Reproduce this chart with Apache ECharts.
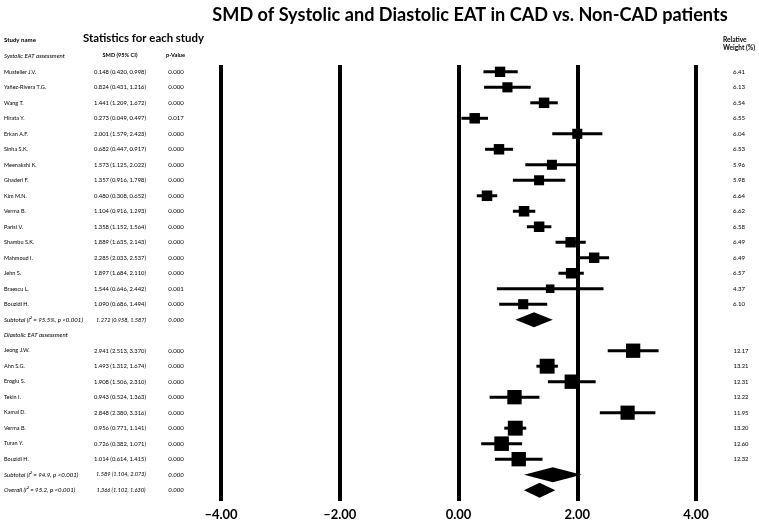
<!DOCTYPE html>
<html><head><meta charset="utf-8">
<script src="https://cdn.jsdelivr.net/npm/echarts@6/dist/echarts.min.js"></script>
<style>html,body{margin:0;padding:0;background:#fff}#c{width:759px;height:523px}</style>
</head><body><div id="c"></div>
<script>
// ---- Systolic studies ----
const sysNames = ['Mustelier J.V.','Yañez-Rivera T.G.','Wang T.','Hirata Y.','Erkan A.F.','Sinha S.K.','Meenakshi K.','Ghaderi F.','Kim M.N.','Verma B.','Parisi V.','Shambu S.K.','Mahmoud I.','Jehn S.','Braescu L.','Bouzidi H.'];
const sysCIText = ['0.148 (0.420, 0.998)','0.824 (0.431, 1.216)','1.441 (1.209, 1.672)','0.273 (0.049, 0.497)','2.001 (1.579, 2.423)','0.682 (0.447, 0.917)','1.573 (1.125, 2.022)','1.357 (0.916, 1.798)','0.480 (0.308, 0.652)','1.104 (0.916, 1.293)','1.358 (1.152, 1.564)','1.889 (1.635, 2.143)','2.285 (2.033, 2.537)','1.897 (1.684, 2.110)','1.544 (0.646, 2.442)','1.090 (0.686, 1.494)'];
const sysP = ['0.000','0.000','0.000','0.017','0.000','0.000','0.000','0.000','0.000','0.000','0.000','0.000','0.000','0.000','0.001','0.000'];
const sysEst = [0.70,0.824,1.441,0.273,2.001,0.682,1.573,1.357,0.480,1.104,1.358,1.889,2.285,1.897,1.544,1.090];
const sysLow = [0.420,0.431,1.209,0.049,1.579,0.447,1.125,0.916,0.308,0.916,1.152,1.635,2.033,1.684,0.646,0.686];
const sysHigh = [0.998,1.216,1.672,0.497,2.423,0.917,2.022,1.798,0.652,1.293,1.564,2.143,2.537,2.110,2.442,1.494];
const sysWeight = [6.41,6.13,6.54,6.55,6.04,6.53,5.96,5.98,6.64,6.62,6.58,6.49,6.49,6.57,4.37,6.10];
// ---- Diastolic studies ----
const diaNames = ['Jeong J.W.','Ahn S.G.','Eroglu S.','Tekin I.','Kamal D.','Verma B.','Turan Y.','Bouzidi H.'];
const diaCIText = ['2.941 (2.513, 3.370)','1.493 (1.312, 1.674)','1.908 (1.506, 2.310)','0.943 (0.524, 1.363)','2.848 (2.380, 3.316)','0.956 (0.771, 1.141)','0.726 (0.382, 1.071)','1.014 (0.614, 1.415)'];
const diaP = ['0.000','0.000','0.000','0.000','0.000','0.000','0.000','0.000'];
const diaEst = [2.941,1.493,1.908,0.943,2.848,0.956,0.726,1.014];
const diaLow = [2.513,1.312,1.506,0.524,2.380,0.771,0.382,0.614];
const diaHigh = [3.370,1.674,2.310,1.363,3.316,1.141,1.071,1.415];
const diaWeight = [12.17,13.21,12.31,12.22,11.95,13.20,12.60,12.32];
// ---- Summary estimates ----
const sumLabels = ['Subtotal (I² = 95.5%, p <0.001)','Subtotal (I² = 94.9, p <0.001)','Overall (I² = 95.2, p <0.001)'];
const sumCIText = ['1.272 (0.958, 1.587)','1.589 (1.104, 2.073)','1.366 (1.102, 1.630)'];
const sumP = ['0.000','0.000','0.000'];
const sumEst = [1.272,1.589,1.366];
const sumLow = [0.958,1.104,1.102];
const sumHigh = [1.587,2.073,1.630];
// ---- Axis ticks ----
const xTicks = [-4,-2,0,2,4];

const FONT = 'Lato, "Open Sans", sans-serif';
// font size that makes a sample string reach a target width
const mctx = document.createElement('canvas').getContext('2d');
function fit(sample, target, pre){
  mctx.font = (pre||'') + ' 100px ' + FONT;
  return +(100*target/mctx.measureText(sample).width).toFixed(2);
}
const fsTitle = fit('SMD of Systolic and Diastolic EAT in CAD vs. Non-CAD patients', 516, 'bold');
const fsStats = fit('Statistics for each study', 121, 'bold');
const fsName = fit('Yañez-Rivera T.G.', 42, '');
const fsCI = fit('0.148 (0.420, 0.998)', 52, '');
const fsP = fit('0.000', 15.5, '');
const fsSum = fit('Subtotal (I² = 95.5%, p <0.001)', 79, 'italic');
const fsSumCI = fit('1.272 (0.958, 1.587)', 50, 'italic');
const fsHead = fit('Systolic EAT assessment', 61, 'italic');
const fsStudyName = fit('Study name', 32, 'bold');
const fsColHead = fit('SMD (95% CI)', 35, 'bold');
const fsRel = fit('Weight (%)', 32, 'bold');
const fsW = fit('6.41', 12, '');
const fsW2 = fit('12.17', 15, '');

// Build row layout
const rows = [];
rows.push({kind:'header', name:'Systolic EAT assessment'});
sysNames.forEach((n,i)=>rows.push({kind:'study', grp:'s', name:n, ci:sysCIText[i], p:sysP[i], w:sysWeight[i], est:sysEst[i], lo:sysLow[i], hi:sysHigh[i]}));
rows.push({kind:'sum', name:sumLabels[0], ci:sumCIText[0], p:sumP[0], est:sumEst[0], lo:sumLow[0], hi:sumHigh[0]});
rows.push({kind:'header', name:'Diastolic EAT assessment'});
diaNames.forEach((n,i)=>rows.push({kind:'study', grp:'d', name:n, ci:diaCIText[i], p:diaP[i], w:diaWeight[i], est:diaEst[i], lo:diaLow[i], hi:diaHigh[i]}));
rows.push({kind:'sum', name:sumLabels[1], ci:sumCIText[1], p:sumP[1], est:sumEst[1], lo:sumLow[1], hi:sumHigh[1]});
rows.push({kind:'sum', name:sumLabels[2], ci:sumCIText[2], p:sumP[2], est:sumEst[2], lo:sumLow[2], hi:sumHigh[2]});

const studyData = [], sumData = [], tableData = [];
rows.forEach((r,i)=>{
  tableData.push([0,i]);
  if (r.kind==='study') studyData.push([r.est, r.lo, r.hi, i, r.w]);
  if (r.kind==='sum') sumData.push([r.est, r.lo, r.hi, i]);
});

const TXT = '#000';
const chart = echarts.init(document.getElementById('c'));
chart.setOption({
  animation:false,
  backgroundColor:'#fff',
  grid:{left:221, right:63, top:65, bottom:22},
  xAxis:{type:'value', min:xTicks[0], max:xTicks[xTicks.length-1], interval:2,
    axisLine:{show:false}, axisTick:{show:false},
    splitLine:{show:true, lineStyle:{color:'#000', width:4}},
    axisLabel:{color:'#000', fontSize:13, fontWeight:'bold', fontFamily:FONT, margin:7,
      formatter:v=>(v<0?'\u2013':'')+Math.abs(v).toFixed(2)}},
  yAxis:{type:'value', inverse:true, min:0.56, max:28.7, show:false, splitLine:{show:false}},
  graphic:[
    {type:'text', x:470, y:15, style:{text:'SMD of Systolic and Diastolic EAT in CAD vs. Non-CAD patients', fill:'#000', font:'bold '+fsTitle+'px '+FONT, textAlign:'center', textVerticalAlign:'middle'}},
    {type:'text', x:4, y:40, style:{text:'Study name', fill:'#000', font:'bold '+fsStudyName+'px '+FONT, textVerticalAlign:'middle'}},
    {type:'text', x:143.5, y:38, style:{text:'Statistics for each study', fill:'#000', font:'bold '+fsStats+'px '+FONT, textAlign:'center', textVerticalAlign:'middle'}},
    {type:'text', x:120, y:55.5, style:{text:'SMD (95% CI)', fill:'#000', font:'bold '+fsColHead+'px '+FONT, textAlign:'center', textVerticalAlign:'middle'}},
    {type:'text', x:175.5, y:55.5, style:{text:'p-Value', fill:'#000', font:'bold '+fsColHead+'px '+FONT, textAlign:'center', textVerticalAlign:'middle'}},
    {type:'text', x:723, y:40, style:{text:'Relative', fill:'#000', font:'bold '+fsRel+'px '+FONT, textVerticalAlign:'middle'}},
    {type:'text', x:723, y:48, style:{text:'Weight (%)', fill:'#000', font:'bold '+fsRel+'px '+FONT, textVerticalAlign:'middle'}}
  ],
  series:[
    {type:'custom', name:'table', data:tableData, silent:true,
      renderItem:(params, api)=>{
        const r = rows[params.dataIndex];
        const y = api.coord([0, api.value(1)])[1];
        const ch = [];
        if (r.kind==='header') {
          ch.push({type:'text', x:4, y:y, style:{text:r.name, fill:TXT, font:'italic '+fsHead+'px '+FONT, textVerticalAlign:'middle'}});
        } else if (r.kind==='sum') {
          ch.push({type:'text', x:4, y:y, style:{text:r.name, fill:TXT, font:'italic '+fsSum+'px '+FONT, textVerticalAlign:'middle'}});
          ch.push({type:'text', x:121, y:y, style:{text:r.ci, fill:TXT, font:'italic '+fsSumCI+'px '+FONT, textAlign:'center', textVerticalAlign:'middle'}});
          ch.push({type:'text', x:176, y:y, style:{text:r.p, fill:TXT, font:'italic '+fsP+'px '+FONT, textAlign:'center', textVerticalAlign:'middle'}});
        } else {
          ch.push({type:'text', x:4, y:y, style:{text:r.name, fill:TXT, font:fsName+'px '+FONT, textVerticalAlign:'middle'}});
          ch.push({type:'text', x:120, y:y, style:{text:r.ci, fill:TXT, font:fsCI+'px '+FONT, textAlign:'center', textVerticalAlign:'middle'}});
          ch.push({type:'text', x:176, y:y, style:{text:r.p, fill:TXT, font:fsP+'px '+FONT, textAlign:'center', textVerticalAlign:'middle'}});
          ch.push({type:'text', x:(r.grp==='s'?739:741), y:y, style:{text:r.w.toFixed(2), fill:TXT, font:(r.grp==='s'?fsW:fsW2)+'px '+FONT, textAlign:'center', textVerticalAlign:'middle'}});
        }
        return {type:'group', children:ch};
      }},
    {type:'custom', name:'studies', data:studyData, silent:true,
      renderItem:(params, api)=>{
        const row = api.value(3);
        const c = api.coord([api.value(0), row]);
        const l = api.coord([api.value(1), row]);
        const h = api.coord([api.value(2), row]);
        const s = 4.1*Math.sqrt(api.value(4));
        return {type:'group', children:[
          {type:'line', shape:{x1:l[0], y1:c[1], x2:h[0], y2:c[1]}, style:{stroke:'#000', lineWidth:3}},
          {type:'rect', shape:{x:c[0]-s/2, y:c[1]-s/2, width:s, height:s}, style:{fill:'#000'}}
        ]};
      }},
    {type:'custom', name:'summary', data:sumData, silent:true,
      renderItem:(params, api)=>{
        const row = api.value(3);
        const c = api.coord([api.value(0), row]);
        const l = api.coord([api.value(1), row]);
        const h = api.coord([api.value(2), row]);
        const hh = 7.5;
        return {type:'polygon', shape:{points:[[l[0],c[1]],[c[0],c[1]-hh],[h[0],c[1]],[c[0],c[1]+hh]]}, style:{fill:'#000'}};
      }}
  ]
});
</script></body></html>
